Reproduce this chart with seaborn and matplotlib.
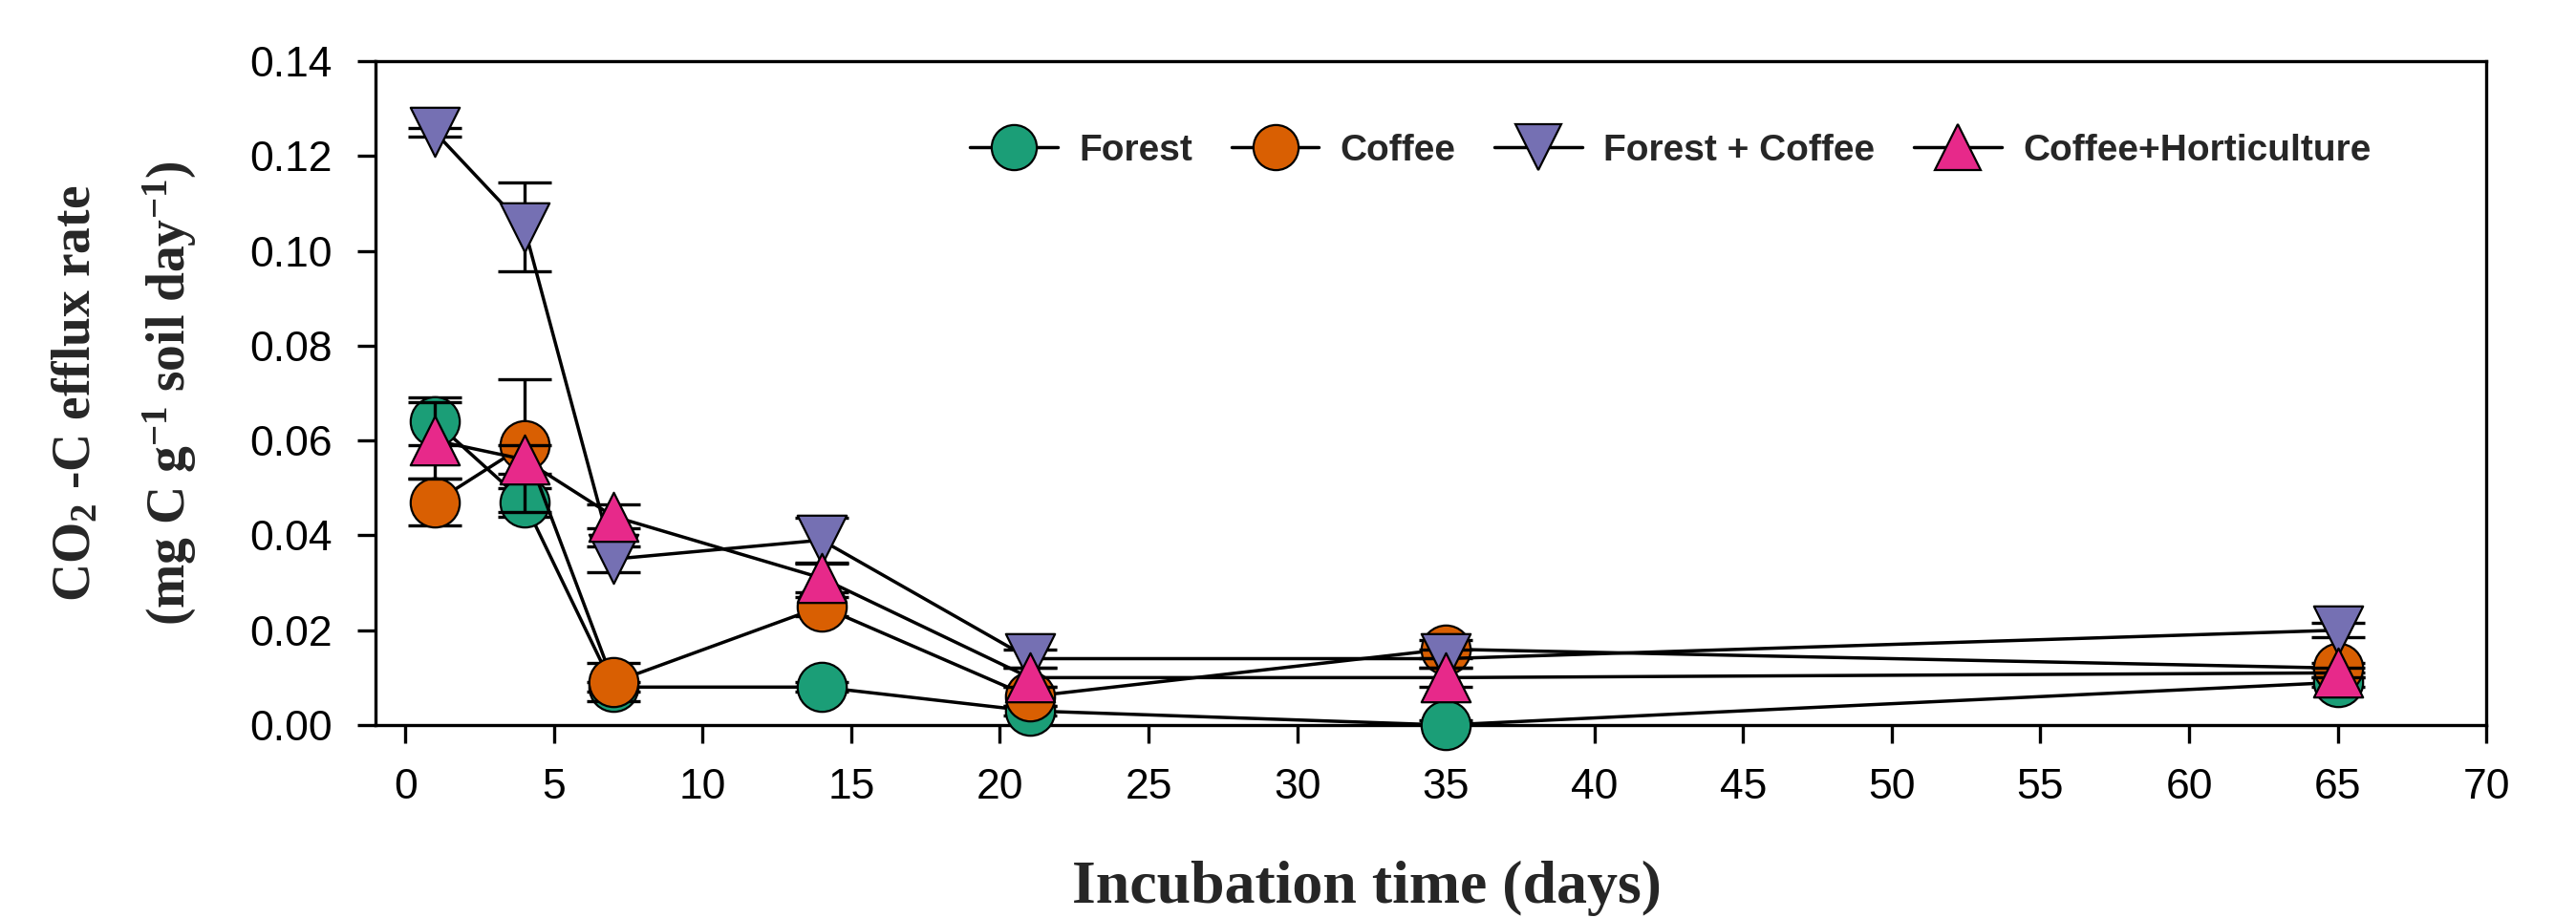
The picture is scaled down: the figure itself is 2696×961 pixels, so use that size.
import numpy as np
import matplotlib.pyplot as plt
import seaborn as sns
from matplotlib.lines import Line2D
from matplotlib.ticker import FormatStrFormatter

# incubation days and CO2-C efflux rates (mg C g-1 soil day-1)
days = [1, 4, 7, 14, 21, 35, 65]
treatments = ['Forest', 'Coffee', 'Forest + Coffee', 'Coffee+Horticulture']

forest = [0.064, 0.047, 0.008, 0.008, 0.003, 0.000, 0.009]
forest_se = [0.005, 0.003, 0.001, 0.001, 0.001, 0.001, 0.001]
coffee = [0.047, 0.059, 0.009, 0.025, 0.006, 0.016, 0.012]
coffee_se = [0.005, 0.014, 0.004, 0.002, 0.002, 0.002, 0.001]
forest_coffee = [0.125, 0.105, 0.035, 0.039, 0.014, 0.014, 0.020]
forest_coffee_se = [0.001, 0.0094, 0.0027, 0.0048, 0.002, 0.002, 0.0015]
coffee_hort = [0.060, 0.056, 0.044, 0.031, 0.010, 0.010, 0.011]
coffee_hort_se = [0.008, 0.003, 0.0025, 0.003, 0.002, 0.002, 0.001]

means = [forest, coffee, forest_coffee, coffee_hort]
errs = [forest_se, coffee_se, forest_coffee_se, coffee_hort_se]
markers = ['o', 'o', 'v', '^']

sns.set_style('ticks')
plt.rcParams['font.family'] = ['Liberation Sans', 'DejaVu Sans']
plt.rcParams['mathtext.fontset'] = 'custom'
plt.rcParams['mathtext.rm'] = 'Liberation Serif:bold'
plt.rcParams['mathtext.default'] = 'rm'

palette = sns.color_palette('Dark2', 4)

fig = plt.figure(figsize=(26.96, 9.61), dpi=100)
ax = fig.add_axes([0.1458, 0.2102, 0.8194, 0.7232])

for i, (vals, err) in enumerate(zip(means, errs)):
    z = 3 + 3 * i
    sns.lineplot(x=days, y=vals, color='black', linewidth=2.5, ax=ax,
                 estimator=None, zorder=z)
    ax.errorbar(days, vals, yerr=err, fmt='none', ecolor='black',
                elinewidth=2.4, capsize=20, capthick=2.4, zorder=z + 1)
    sns.scatterplot(x=days, y=vals, marker=markers[i], color=palette[i],
                    s=37 ** 2, edgecolor='black', linewidth=1.6, ax=ax,
                    zorder=z + 2, clip_on=False, legend=False)

ax.set_xlim(-1, 70)
ax.set_ylim(0, 0.14)
ax.set_xticks(range(0, 71, 5))
ax.set_yticks(np.arange(0, 0.141, 0.02))
ax.yaxis.set_major_formatter(FormatStrFormatter('%.2f'))
ax.tick_params(direction='out', length=13.5, width=2.4, labelsize=32,
               pad=19, colors='black')
for sp in ax.spines.values():
    sp.set_linewidth(2.4)
    sp.set_color('black')
ax.set_xlabel('')
ax.set_ylabel('')

serif = ['Liberation Serif', 'DejaVu Serif']
fig.text(80 / 2696, 1 - 412 / 961, r'CO$_2$ -C efflux rate', rotation=90,
         ha='center', va='center', fontsize=40, fontweight='bold', family=serif)
fig.text(178 / 2696, 1 - 412 / 961, r'(mg C g$^{-1}$ soil day$^{-1}$)',
         rotation=90, ha='center', va='center', fontsize=40,
         fontweight='bold', family=serif)
fig.text(1430 / 2696, 16 / 961, 'Incubation time (days)', ha='center',
         va='baseline', fontsize=46, fontweight='bold', family=serif)

handles = [Line2D([0], [0], color='black', lw=2.5, marker=m, markersize=34,
                  markerfacecolor=c, markeredgecolor='black',
                  markeredgewidth=1.6)
           for m, c in zip(markers, palette)]
fig.legend(handles, treatments, loc='center left',
           bbox_to_anchor=(1015 / 2696, 1 - 158 / 961), ncol=4,
           frameon=False, borderpad=0, borderaxespad=0,
           handlelength=2.36, handletextpad=0.57, columnspacing=1.05,
           prop={'family': 'Liberation Sans', 'weight': 'bold', 'size': 28})

fig.savefig('out.png', dpi=100)
